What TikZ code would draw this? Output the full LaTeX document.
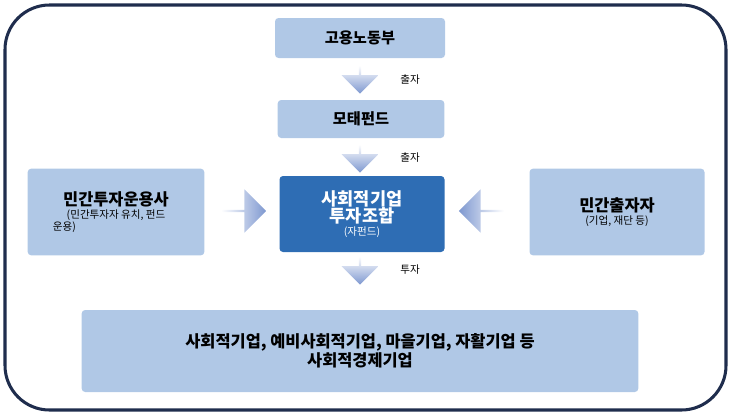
\documentclass[tikz,border=0pt]{standalone}
\usepackage{fontspec}
\setmainfont{Noto Sans CJK KR}
\usetikzlibrary{shapes.arrows}
\definecolor{lb}{HTML}{B0C8E6}
\definecolor{db}{HTML}{2E6DB4}
\definecolor{nv}{HTML}{1F2D4D}
\definecolor{ab}{HTML}{7E98D0}
\begin{document}
\begin{tikzpicture}[x=0.03cm,y=-0.03cm]
\tikzset{
 box/.style={fill=lb, rounded corners=3pt, draw=none, align=center, inner sep=0pt},
 lbl/.style={font=\fontsize{9}{10}\selectfont},
 darr/.style={single arrow, draw=none, minimum height=0.84cm, minimum width=1.1cm, single arrow head extend=0.12cm, inner sep=0pt, shape border rotate=270, top color=white, bottom color=ab},
 harr/.style={single arrow, draw=none, minimum height=1.35cm, minimum width=1.3cm, single arrow head extend=0.12cm, inner sep=0pt}
}
\useasboundingbox (0,0) rectangle (731,415);
\draw[nv, line width=2.6pt, rounded corners=38] (5,5) rectangle (726,410);
\node[box, minimum width=5.1cm, minimum height=1.2cm] (gov) at (360,38) {\fontsize{13}{15}\selectfont\bfseries 고용노동부};
\node[darr] (a1) at (360,79) {};
\node[lbl] (l1) at (410,80) {출자};
\node[box, minimum width=5cm, minimum height=1.14cm] (mother) at (361,119) {\fontsize{13}{15}\selectfont\bfseries 모태펀드};
\node[darr] (a2) at (360,158) {};
\node[lbl] (l2) at (410,158) {출자};
\node[box, fill=db, text=white, minimum width=4.95cm, minimum height=2.28cm] (fund) at (362,214) {\fontsize{15}{17}\selectfont\bfseries 사회적기업\\\fontsize{15}{17}\selectfont\bfseries 투자조합\\[-1pt]\fontsize{9}{10}\selectfont (자펀드)};
\node[box, minimum width=5.3cm, minimum height=2.6cm] (left) at (116,212) {\fontsize{14}{16}\selectfont\bfseries 민간투자운용사\\[-1pt]\fontsize{9}{10}\selectfont (민간투자자 유치, 펀드\\[-2pt]\fontsize{9}{10}\selectfont 운용)\hspace*{3.1cm}};
\node[box, minimum width=5.25cm, minimum height=2.6cm] (right) at (617,212) {\fontsize{14}{16}\selectfont\bfseries 민간출자자\\[-1pt]\fontsize{9}{10}\selectfont (기업, 재단 등)};
\node[harr, left color=white, right color=ab] (a3) at (243,211) {};
\node[harr, shape border rotate=180, left color=ab, right color=white] (a4) at (482,211) {};
\node[darr] (a5) at (360,270) {};
\node[lbl] (l3) at (410,270) {투자};
\node[box, minimum width=16.7cm, minimum height=2.46cm] (bottom) at (360,351) {\fontsize{14}{17}\selectfont\bfseries 사회적기업, 예비사회적기업, 마을기업, 자활기업 등\\\fontsize{14}{17}\selectfont\bfseries 사회적경제기업};
\end{tikzpicture}
\end{document}
